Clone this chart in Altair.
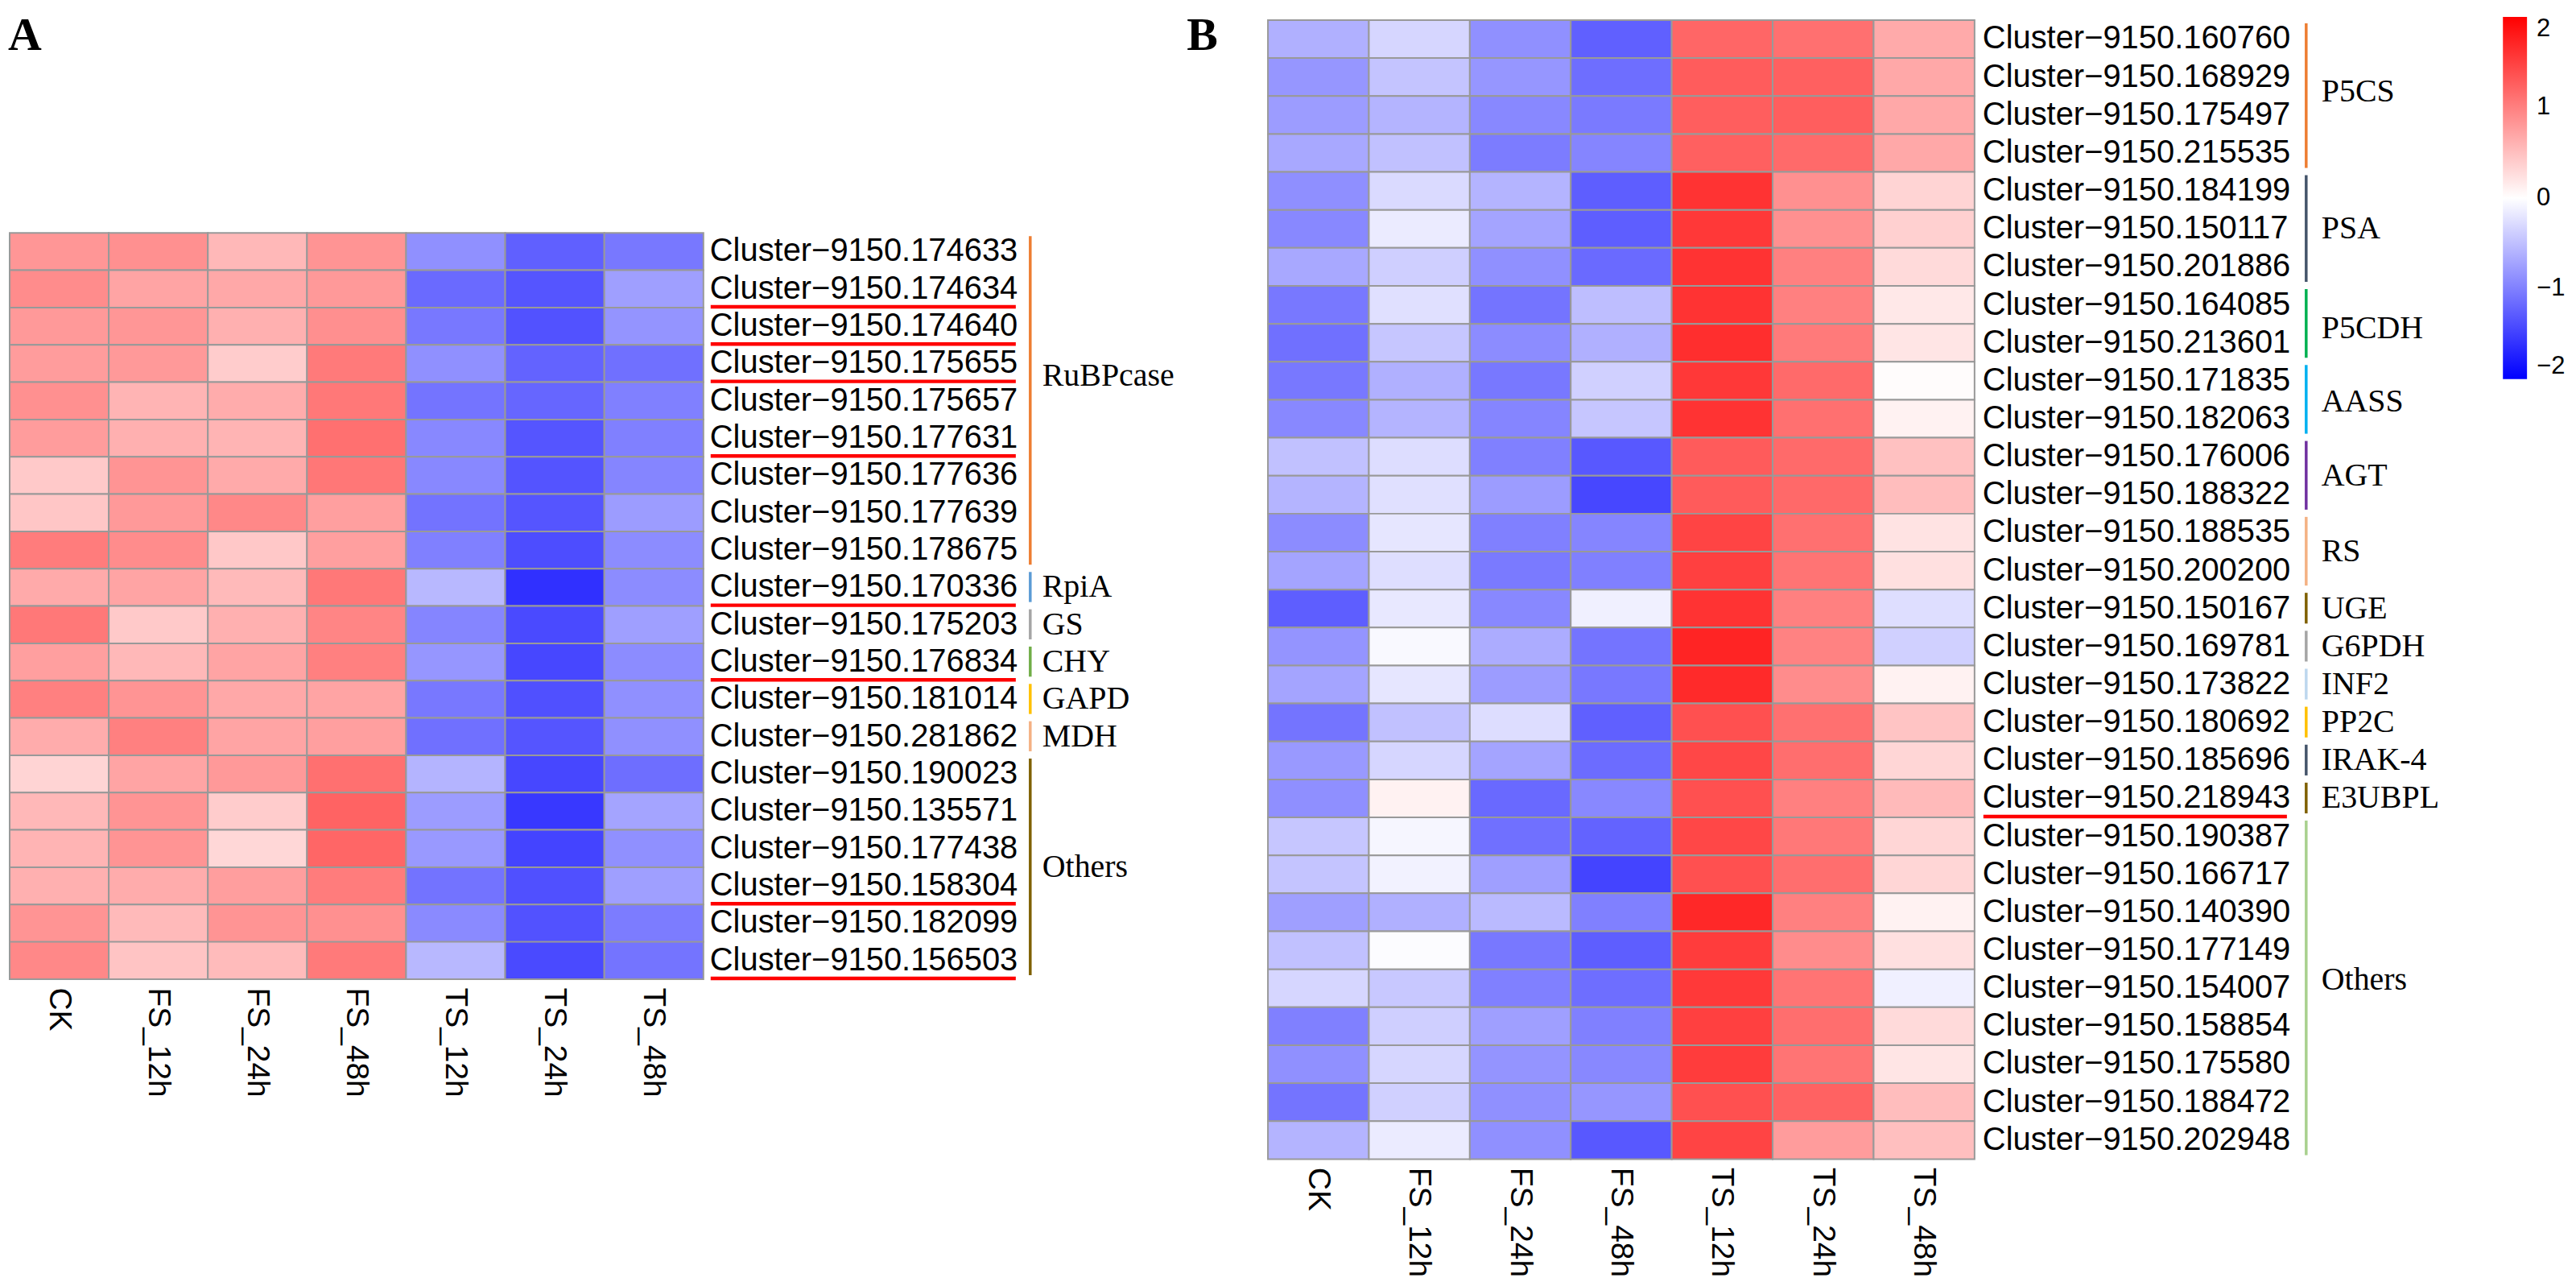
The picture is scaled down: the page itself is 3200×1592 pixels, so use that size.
import altair as alt
import pandas as pd

samples = ["CK", "FS_12h", "FS_24h", "FS_48h", "TS_12h", "TS_24h", "TS_48h"]

# ---------------- Panel A data ----------------
a_clusters = [
    "Cluster−9150.174633", "Cluster−9150.174634", "Cluster−9150.174640",
    "Cluster−9150.175655", "Cluster−9150.175657", "Cluster−9150.177631",
    "Cluster−9150.177636", "Cluster−9150.177639", "Cluster−9150.178675",
    "Cluster−9150.170336", "Cluster−9150.175203", "Cluster−9150.176834",
    "Cluster−9150.181014", "Cluster−9150.281862", "Cluster−9150.190023",
    "Cluster−9150.135571", "Cluster−9150.177438", "Cluster−9150.158304",
    "Cluster−9150.182099", "Cluster−9150.156503",
]
a_values = [
    [0.82, 0.87, 0.56, 0.84, -0.87, -1.25, -1.06],
    [0.90, 0.71, 0.68, 0.80, -1.17, -1.33, -0.75],
    [0.80, 0.82, 0.62, 0.88, -1.06, -1.36, -0.84],
    [0.78, 0.80, 0.40, 1.04, -0.87, -1.22, -1.12],
    [0.87, 0.59, 0.65, 1.06, -1.09, -1.20, -1.00],
    [0.78, 0.62, 0.59, 1.12, -0.93, -1.33, -1.00],
    [0.42, 0.84, 0.67, 1.07, -0.93, -1.34, -0.96],
    [0.45, 0.80, 0.93, 0.75, -1.10, -1.33, -0.78],
    [1.03, 0.90, 0.43, 0.75, -1.00, -1.40, -0.90],
    [0.67, 0.71, 0.54, 1.06, -0.56, -1.62, -0.90],
    [1.06, 0.42, 0.62, 0.96, -0.96, -1.42, -0.75],
    [0.75, 0.56, 0.71, 1.00, -0.82, -1.44, -0.90],
    [1.00, 0.84, 0.68, 0.71, -1.06, -1.37, -0.87],
    [0.65, 1.00, 0.71, 0.75, -1.12, -1.33, -0.87],
    [0.34, 0.71, 0.80, 1.12, -0.59, -1.44, -1.14],
    [0.56, 0.84, 0.40, 1.22, -0.78, -1.56, -0.71],
    [0.59, 0.84, 0.31, 1.20, -0.80, -1.47, -0.87],
    [0.62, 0.65, 0.76, 1.03, -1.10, -1.37, -0.75],
    [0.84, 0.54, 0.84, 0.87, -0.92, -1.36, -1.03],
    [0.93, 0.46, 0.53, 1.04, -0.56, -1.42, -1.09],
]
a_group_names = ["RuBPcase", "RpiA", "GS", "CHY", "GAPD", "MDH", "Others"]
a_group_sizes = [9, 1, 1, 1, 1, 1, 6]
a_underlined = [
    "Cluster−9150.174634", "Cluster−9150.174640", "Cluster−9150.175655",
    "Cluster−9150.177631", "Cluster−9150.170336", "Cluster−9150.176834",
    "Cluster−9150.158304", "Cluster−9150.156503",
]

# ---------------- Panel B data ----------------
b_clusters = [
    "Cluster−9150.160760", "Cluster−9150.168929", "Cluster−9150.175497",
    "Cluster−9150.215535", "Cluster−9150.184199", "Cluster−9150.150117",
    "Cluster−9150.201886", "Cluster−9150.164085", "Cluster−9150.213601",
    "Cluster−9150.171835", "Cluster−9150.182063", "Cluster−9150.176006",
    "Cluster−9150.188322", "Cluster−9150.188535", "Cluster−9150.200200",
    "Cluster−9150.150167", "Cluster−9150.169781", "Cluster−9150.173822",
    "Cluster−9150.180692", "Cluster−9150.185696", "Cluster−9150.218943",
    "Cluster−9150.190387", "Cluster−9150.166717", "Cluster−9150.140390",
    "Cluster−9150.177149", "Cluster−9150.154007", "Cluster−9150.158854",
    "Cluster−9150.175580", "Cluster−9150.188472", "Cluster−9150.202948",
]
b_values = [
    [-0.62, -0.32, -0.87, -1.25, 1.20, 1.12, 0.67],
    [-0.82, -0.46, -0.82, -1.14, 1.28, 1.25, 0.68],
    [-0.78, -0.59, -0.93, -1.04, 1.26, 1.26, 0.68],
    [-0.68, -0.49, -1.03, -0.96, 1.25, 1.17, 0.68],
    [-0.88, -0.29, -0.59, -1.26, 1.60, 0.87, 0.34],
    [-0.93, -0.16, -0.71, -1.26, 1.56, 0.87, 0.37],
    [-0.68, -0.38, -0.87, -1.17, 1.60, 1.00, 0.29],
    [-1.06, -0.24, -1.09, -0.51, 1.60, 1.00, 0.18],
    [-1.12, -0.45, -0.90, -0.62, 1.64, 1.04, 0.20],
    [-1.06, -0.62, -1.06, -0.37, 1.56, 1.17, 0.02],
    [-0.93, -0.59, -0.96, -0.45, 1.60, 1.12, 0.10],
    [-0.49, -0.27, -1.00, -1.31, 1.29, 1.17, 0.49],
    [-0.59, -0.24, -0.78, -1.44, 1.29, 1.18, 0.52],
    [-0.90, -0.20, -1.00, -0.96, 1.47, 1.12, 0.22],
    [-0.71, -0.26, -1.04, -1.00, 1.50, 1.09, 0.24],
    [-1.26, -0.18, -0.93, -0.12, 1.60, 1.00, -0.26],
    [-0.84, -0.05, -0.65, -1.09, 1.72, 0.98, -0.37],
    [-0.71, -0.20, -0.78, -1.06, 1.67, 0.90, 0.10],
    [-1.09, -0.49, -0.27, -1.25, 1.37, 1.12, 0.46],
    [-0.80, -0.32, -0.71, -1.15, 1.44, 1.14, 0.32],
    [-0.88, 0.10, -1.18, -0.93, 1.37, 1.00, 0.54],
    [-0.45, -0.07, -1.12, -1.22, 1.44, 1.06, 0.32],
    [-0.46, -0.10, -0.75, -1.47, 1.37, 1.14, 0.32],
    [-0.75, -0.62, -0.54, -1.00, 1.69, 1.00, 0.10],
    [-0.49, -0.02, -1.06, -1.26, 1.53, 0.90, 0.24],
    [-0.32, -0.43, -1.00, -1.14, 1.55, 1.09, -0.12],
    [-1.00, -0.38, -0.75, -1.00, 1.50, 1.14, 0.29],
    [-0.87, -0.32, -0.84, -0.93, 1.53, 1.09, 0.20],
    [-1.09, -0.37, -0.87, -0.82, 1.37, 1.23, 0.52],
    [-0.59, -0.16, -0.87, -1.31, 1.47, 0.78, 0.50],
]
b_group_names = ["P5CS", "PSA", "P5CDH", "AASS", "AGT", "RS", "UGE", "G6PDH",
                 "INF2", "PP2C", "IRAK-4", "E3UBPL", "Others"]
b_group_sizes = [4, 3, 2, 2, 2, 2, 1, 1, 1, 1, 1, 1, 9]
b_underlined = ["Cluster−9150.218943"]

legend_values = [-2, -1, 0, 1, 2]

# ---------------- styles ----------------
a_group_colors = ["#ED7D31", "#5B9BD5", "#A5A5A5", "#70AD47", "#FFC000", "#F4B183", "#7F6000"]
b_group_colors = ["#ED7D31", "#44546A", "#00B050", "#00B0F0", "#7030A0", "#F4B183",
                  "#7F6000", "#A5A5A5", "#BDD7EE", "#FFC000", "#44546A", "#7F6000", "#A9D18E"]
# vertical nudge of the group names (pixels)
a_group_label_dy = [-31, 0, 0, 0, 0, 0, 0]
b_group_label_dy = [-5, 0, 6, 3, 0, 0, 0, 0, 0, 0, 0, 0, -10]

SANS = "Liberation Sans"
SERIF = "Liberation Serif"

color_scale = alt.Scale(domain=[-2, 0, 2], range=["#0000FF", "#FFFFFF", "#FF0000"],
                        interpolate="rgb")


def build_frames(clusters, values, gnames, gsizes, gcolors, gdy, row_px, underlined):
    cells = []
    for i, (c, row) in enumerate(zip(clusters, values)):
        for s, v in zip(samples, row):
            cells.append({"cluster": c, "sample": s, "value": v, "y0": i, "y1": i + 1})
    labels = pd.DataFrame({
        "label": clusters,
        "yc": [i + 0.5 for i in range(len(clusters))],
        "yb": [i + 1 for i in range(len(clusters))],
    })
    ul = labels[labels["label"].isin(underlined)]
    starts, s = [], 0
    for n in gsizes:
        starts.append(s)
        s += n
    groups = pd.DataFrame({
        "name": gnames,
        "ys": starts,
        "ye": [a + n for a, n in zip(starts, gsizes)],
        "yc": [a + n / 2 + d / row_px for a, n, d in zip(starts, gsizes, gdy)],
        "color": gcolors,
    })
    return pd.DataFrame(cells), labels, ul, groups


def panel(frames, width, height, ytop, nrows, letter, letter_x, label_x, ul_x2,
          bracket_x, glabel_x, legend, bound_x=None):
    cells, labels, ul, groups = frames
    ysc = alt.Scale(domain=[ytop, nrows], reverse=True, nice=False, zero=False)

    heat = alt.Chart(cells).mark_rect(stroke="#999999", strokeWidth=2).encode(
        x=alt.X("sample:N", sort=samples,
                scale=alt.Scale(paddingInner=0, paddingOuter=0),
                axis=alt.Axis(title=None, labelAngle=90, labelFont=SANS,
                              labelFontSize=39, labelColor="black", ticks=False,
                              domain=False, labelPadding=10)),
        y=alt.Y("y0:Q", scale=ysc, axis=None),
        y2="y1:Q",
        color=alt.Color("value:Q", scale=color_scale, legend=legend),
    )
    txt = alt.Chart(labels).mark_text(align="left", baseline="middle", font=SANS,
                                      fontSize=40, color="black").encode(
        x=alt.value(label_x), y=alt.Y("yc:Q", scale=ysc), text="label:N")
    layers = [heat, txt]
    if len(ul):
        under = alt.Chart(ul).mark_rule(color="#FF0000", strokeWidth=4.5, yOffset=-1).encode(
            x=alt.value(label_x + 1), x2=alt.value(ul_x2), y=alt.Y("yb:Q", scale=ysc))
        layers.append(under)
    brk = alt.Chart(groups).mark_rule(strokeWidth=3.5, yOffset=4, y2Offset=-5).encode(
        x=alt.value(bracket_x), y=alt.Y("ys:Q", scale=ysc), y2="ye:Q",
        color=alt.Color("color:N", scale=None, legend=None))
    glab = alt.Chart(groups).mark_text(align="left", baseline="middle", font=SERIF,
                                       fontSize=40, color="black").encode(
        x=alt.value(glabel_x), y=alt.Y("yc:Q", scale=ysc), text="name:N")
    let = alt.Chart(pd.DataFrame({"t": [letter]})).mark_text(
        align="left", baseline="alphabetic", font=SERIF, fontWeight="bold",
        fontSize=58, color="black").encode(
        x=alt.value(letter_x), y=alt.value(37), text="t:N")
    layers += [brk, glab, let]
    if bound_x is not None:
        # white (invisible on white page) spacer that fixes the panel's right extent
        bnd = alt.Chart(pd.DataFrame({"z": [0]})).mark_rule(color="white", strokeWidth=1).encode(
            x=alt.value(bound_x), y=alt.value(100), y2=alt.value(101))
        layers.append(bnd)
    return alt.layer(*layers).properties(width=width, height=height)


a_rows = len(a_clusters)
a_heat_h = 929
a_plot_h = 1194
a_row_px = a_heat_h / a_rows
a_top = a_rows - a_plot_h / a_row_px
b_plot_h = 1418
b_row_px = b_plot_h / len(b_clusters)

fa = build_frames(a_clusters, a_values, a_group_names, a_group_sizes, a_group_colors,
                  a_group_label_dy, a_row_px, a_underlined)
fb = build_frames(b_clusters, b_values, b_group_names, b_group_sizes, b_group_colors,
                  b_group_label_dy, b_row_px, b_underlined)

chart_a = panel(fa, 864, a_plot_h, a_top, a_rows, "A", -2, 872, 1253, 1271, 1286, None,
                bound_x=1465)

b_legend = alt.Legend(orient="none", legendX=1538, legendY=-4, direction="vertical",
                      gradientLength=451, gradientThickness=30, title=None,
                      values=legend_values, format="d", labelFont=SANS, labelFontSize=31,
                      labelColor="black", labelOffset=12, gradientStrokeWidth=0,
                      padding=0)
chart_b = panel(fb, 880, b_plot_h, 0, len(b_clusters), "B", -101, 890, 1269, 1293, 1312,
                b_legend)

chart = alt.hconcat(chart_a, chart_b, spacing=0).resolve_scale(
    color="independent").configure_view(stroke=None).properties(
    padding={"left": 2, "top": 6, "right": 5, "bottom": 5})

chart.save("out.html", embed_options={"renderer": "svg", "actions": False})
